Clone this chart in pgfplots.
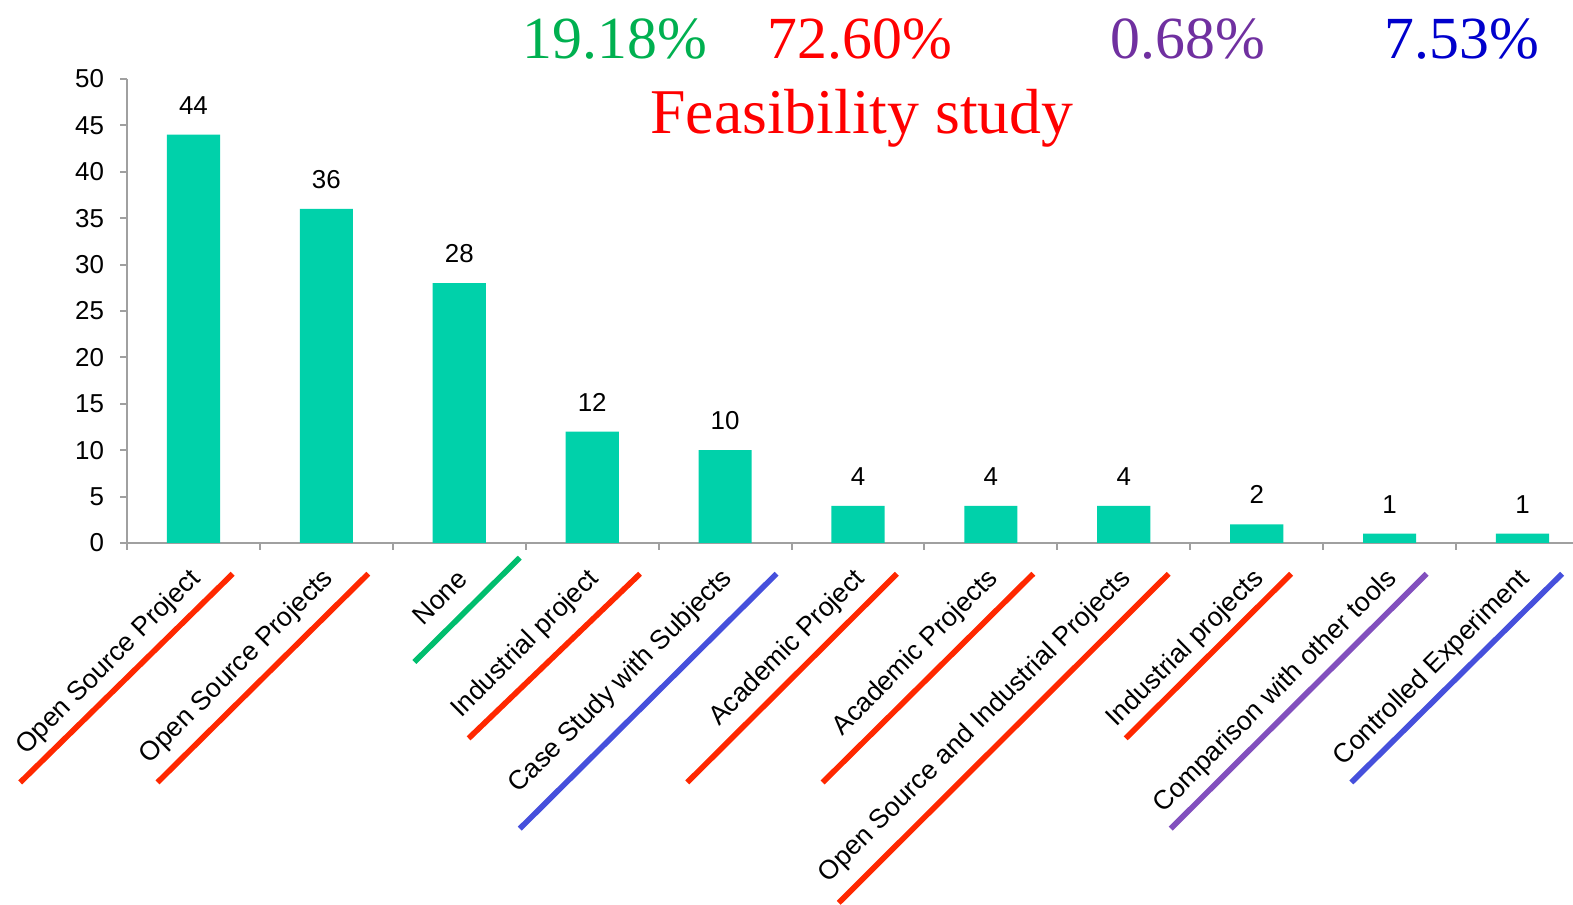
\documentclass[border=0pt]{standalone}
\usepackage{fontspec}
\setmainfont{Liberation Sans}
\newfontfamily\seriffont{Liberation Serif}
\usepackage{pgfplots}
\pgfplotsset{compat=1.18}

\definecolor{barfill}{RGB}{0,209,170}
\definecolor{axisgray}{RGB}{160,160,160}
\definecolor{pctgreen}{RGB}{0,176,80}
\definecolor{pctred}{RGB}{255,0,0}
\definecolor{pctpurple}{RGB}{112,48,160}
\definecolor{pctblue}{RGB}{0,0,204}
\definecolor{ulred}{RGB}{255,40,0}
\definecolor{ulgreen}{RGB}{0,190,110}
\definecolor{ulblue}{RGB}{70,80,220}
\definecolor{ulpurple}{RGB}{130,80,190}

\begin{document}
\begin{tikzpicture}
\begin{axis}[
  scale only axis,
  width=723bp, height=232bp,
  xmin=-0.5, xmax=10.38,
  ymin=0, ymax=50,
  axis x line*=bottom,
  axis y line*=left,
  axis line style={axisgray, line width=1.2bp},
  tick style={axisgray, line width=1bp},
  tick align=outside,
  major tick length=3.5bp,
  ytick={0,5,...,50},
  yticklabel style={xshift=-4.5bp},
  xtick={-0.5,0.5,...,9.5},
  xticklabels={,,,,,,,,,,},
  extra x ticks={0,1,...,10},
  extra x tick labels={Open Source Project, Open Source Projects, None,
    Industrial project, Case Study with Subjects, Academic Project,
    Academic Projects, Open Source and Industrial Projects,
    Industrial projects, Comparison with other tools, Controlled Experiment},
  extra x tick style={major tick length=0pt,
    xticklabel style={xshift=4bp, yshift=-13.5bp, rotate=45, anchor=east,
      font=\fontsize{13.4}{15}\selectfont}},
  /pgf/number format/assume math mode=true,
  tick label style={font=\fontsize{13}{15}\selectfont, text=black},
  ybar, bar width=0.4,
  nodes near coords,
  every node near coord/.append style={font=\fontsize{13}{15}\selectfont,
    text=black, inner sep=0pt, yshift=10bp},
  clip=false,
]
\addplot[fill=barfill, draw=none] coordinates {
  (0,44) (1,36) (2,28) (3,12) (4,10) (5,4) (6,4) (7,4) (8,2) (9,1) (10,1)
};

% coloured strokes under each category name
\draw[ulred,    line width=2.8bp] (axis cs:0.295,-3.32)  -- (axis cs:-1.304,-25.81);
\draw[ulred,    line width=2.8bp] (axis cs:1.315,-3.32)  -- (axis cs:-0.271,-25.81);
\draw[ulgreen,  line width=2.8bp] (axis cs:2.455,-1.59)  -- (axis cs:1.662,-12.83);
\draw[ulred,    line width=2.8bp] (axis cs:3.360,-3.32)  -- (axis cs:2.070,-21.06);
\draw[ulblue,   line width=2.8bp] (axis cs:4.387,-3.32)  -- (axis cs:2.455,-30.79);
\draw[ulred,    line width=2.8bp] (axis cs:5.293,-3.32)  -- (axis cs:3.715,-25.81);
\draw[ulred,    line width=2.8bp] (axis cs:6.319,-3.32)  -- (axis cs:4.734,-25.81);
\draw[ulred,    line width=2.8bp] (axis cs:7.338,-3.32)  -- (axis cs:4.855,-38.78);
\draw[ulred,    line width=2.8bp] (axis cs:8.259,-3.32)  -- (axis cs:7.014,-21.06);
\draw[ulpurple, line width=2.8bp] (axis cs:9.279,-3.32)  -- (axis cs:7.353,-30.79);
\draw[ulblue,   line width=2.8bp] (axis cs:10.298,-3.32) -- (axis cs:8.712,-25.81);

% shares and heading
\node[anchor=base, font=\seriffont\fontsize{30}{36}\selectfont, text=pctgreen]  at (axis cs:3.172,52.24) {19.18\%};
\node[anchor=base, font=\seriffont\fontsize{30}{36}\selectfont, text=pctred]    at (axis cs:5.015,52.24) {72.60\%};
\node[anchor=base, font=\seriffont\fontsize{30}{36}\selectfont, text=pctpurple] at (axis cs:7.483,52.24) {0.68\%};
\node[anchor=base, font=\seriffont\fontsize{30}{36}\selectfont, text=pctblue]   at (axis cs:9.545,52.24) {7.53\%};
\node[anchor=base, font=\seriffont\fontsize{32}{38}\selectfont, text=pctred]    at (axis cs:5.030,44.14) {Feasibility study};

\coordinate (bbsw) at (axis cs:-1.456,-39.01);
\coordinate (bbne) at (axis cs:10.38,58.51);
\end{axis}
\pgfresetboundingbox
\path[use as bounding box] (bbsw) rectangle (bbne);
\end{tikzpicture}
\end{document}
